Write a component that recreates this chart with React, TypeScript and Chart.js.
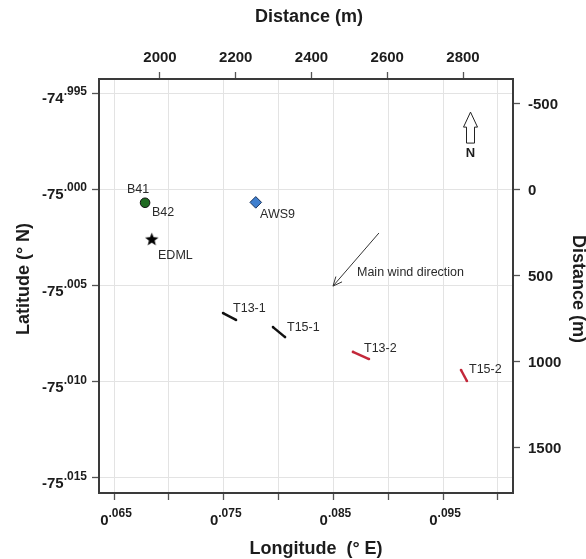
import React, { useEffect, useRef } from 'react';
import { Chart, registerables } from 'chart.js';

Chart.register(...registerables);

// ---------- data ----------
const lonRange = [0.06363, 0.10137];
const latRange = [-75.01578, -74.99427];
const distXRange = [1839, 2932];
const distYRange = [-645, 1762];

const lonTicks = [0.065, 0.07, 0.075, 0.08, 0.085, 0.09, 0.095, 0.1];
const lonLabelTicks = [0.065, 0.075, 0.085, 0.095];
const latTicks = [-74.995, -75.0, -75.005, -75.01, -75.015];
const distXTicks = [2000, 2200, 2400, 2600, 2800];
const distYTicks = [-500, 0, 500, 1000, 1500];

const siteNames = ['B41/B42', 'AWS9', 'EDML'];
const siteLon = [0.06783, 0.07792, 0.06844];
const siteLat = [-75.0007, -75.00068, -75.0026];

const transectNames = ['T13-1', 'T15-1', 'T13-2', 'T15-2'];
const transectLon = [
  [0.07494, 0.07612],
  [0.07949, 0.08059],
  [0.08678, 0.08824],
  [0.09663, 0.09717],
];
const transectLat = [
  [-75.00643, -75.00679],
  [-75.00716, -75.00768],
  [-75.00845, -75.00882],
  [-75.00939, -75.00996],
];

const windLon = [0.08915, 0.08496];
const windLat = [-75.00227, -75.00503];

const northLon = 0.09745;
const northLat = [-74.99599, -74.9976];
const northLabelLat = -74.99812;

const labelText = ['B41', 'B42', 'AWS9', 'EDML', 'T13-1', 'T15-1', 'T13-2', 'T15-2', 'Main wind direction'];
const labelLon = [0.06618, 0.06846, 0.07831, 0.06901, 0.07585, 0.08077, 0.08779, 0.09736, 0.08715];
const labelLat = [-75.0, -75.00123, -75.00129, -75.00342, -75.00622, -75.00716, -75.0083, -75.00934, -75.00435];

// ---------- styles ----------
const FONT = '"Liberation Sans", Arial, Helvetica, sans-serif';
const transectColors = ['#111111', '#111111', '#c3283a', '#c3283a'];
const TEXT = '#1c1c1c';
const FRAME = '#3a3a3a';
const GRID = '#e3e3e3';

function makeStar(): HTMLCanvasElement {
  const c = document.createElement('canvas');
  c.width = 15;
  c.height = 15;
  const g = c.getContext('2d')!;
  g.fillStyle = '#000';
  g.beginPath();
  const cx = 7.5, cy = 7.8, R = 7, r = 3.0;
  for (let i = 0; i < 10; i++) {
    const a = -Math.PI / 2 + (i * Math.PI) / 5;
    const rad = i % 2 === 0 ? R : r;
    const px = cx + rad * Math.cos(a);
    const py = cy + rad * Math.sin(a);
    if (i === 0) g.moveTo(px, py);
    else g.lineTo(px, py);
  }
  g.closePath();
  g.fill();
  return c;
}

function splitLabel(v: number): [string, string] {
  const s = v.toFixed(3);
  const i = s.indexOf('.');
  return [s.slice(0, i), s.slice(i)];
}

function drawSup(ctx: CanvasRenderingContext2D, v: number, x: number, y: number, align: 'right' | 'center') {
  const [main, sup] = splitLabel(v);
  ctx.font = `bold 15px ${FONT}`;
  const wm = ctx.measureText(main).width;
  ctx.font = `bold 12px ${FONT}`;
  const ws = ctx.measureText(sup).width;
  const total = wm + ws;
  const x0 = align === 'right' ? x - total : x - total / 2;
  ctx.textAlign = 'left';
  ctx.textBaseline = 'alphabetic';
  ctx.font = `bold 15px ${FONT}`;
  ctx.fillText(main, x0, y);
  ctx.font = `bold 12px ${FONT}`;
  ctx.fillText(sup, x0 + wm, y - 8);
}

const decorPlugin = {
  id: 'decor',
  afterDatasetsDraw(chart: any) {
    const ctx: CanvasRenderingContext2D = chart.ctx;
    const xs = chart.scales.x;
    const ys = chart.scales.y;
    ctx.save();
    // wind arrowhead
    const sx = xs.getPixelForValue(windLon[0]);
    const sy = ys.getPixelForValue(windLat[0]);
    const ex = xs.getPixelForValue(windLon[1]);
    const ey = ys.getPixelForValue(windLat[1]);
    const th = Math.atan2(ey - sy, ex - sx);
    ctx.strokeStyle = '#333';
    ctx.lineWidth = 1;
    ctx.beginPath();
    ctx.moveTo(ex - 10 * Math.cos(th - 0.42), ey - 10 * Math.sin(th - 0.42));
    ctx.lineTo(ex, ey);
    ctx.lineTo(ex - 10 * Math.cos(th + 0.42), ey - 10 * Math.sin(th + 0.42));
    ctx.stroke();

    // north arrow
    const nx = Math.round(xs.getPixelForValue(northLon)) + 0.5;
    const nt = ys.getPixelForValue(northLat[0]);
    const nb = ys.getPixelForValue(northLat[1]);
    const hb = nt + 15;
    ctx.beginPath();
    ctx.moveTo(nx, nt);
    ctx.lineTo(nx + 7, hb);
    ctx.lineTo(nx + 4, hb);
    ctx.lineTo(nx + 4, nb);
    ctx.lineTo(nx - 4, nb);
    ctx.lineTo(nx - 4, hb);
    ctx.lineTo(nx - 7, hb);
    ctx.closePath();
    ctx.fillStyle = '#fff';
    ctx.fill();
    ctx.strokeStyle = '#222';
    ctx.stroke();
    ctx.fillStyle = TEXT;
    ctx.font = `bold 13px ${FONT}`;
    ctx.textAlign = 'center';
    ctx.textBaseline = 'middle';
    ctx.fillText('N', nx, ys.getPixelForValue(northLabelLat));

    // annotations
    ctx.font = `12.5px ${FONT}`;
    ctx.fillStyle = '#2a2a2a';
    ctx.textAlign = 'left';
    ctx.textBaseline = 'middle';
    labelText.forEach((t, i) => {
      ctx.fillText(t, xs.getPixelForValue(labelLon[i]), ys.getPixelForValue(labelLat[i]));
    });
    ctx.restore();
  },
  afterDraw(chart: any) {
    const ctx: CanvasRenderingContext2D = chart.ctx;
    const a = chart.chartArea;
    const xs = chart.scales.x;
    const ys = chart.scales.y;
    const x2 = chart.scales.x2;
    const y2 = chart.scales.y2;
    ctx.save();
    ctx.fillStyle = TEXT;
    latTicks.forEach((v) => drawSup(ctx, v, a.left - 12, ys.getPixelForValue(v) + 10, 'right'));
    lonLabelTicks.forEach((v) => drawSup(ctx, v, xs.getPixelForValue(v) + 2, a.bottom + 32, 'center'));
    ctx.font = `bold 15px ${FONT}`;
    ctx.textAlign = 'center';
    ctx.textBaseline = 'alphabetic';
    distXTicks.forEach((v) => ctx.fillText(String(v), x2.getPixelForValue(v), a.top - 17));
    ctx.textAlign = 'left';
    distYTicks.forEach((v) => ctx.fillText(String(v), a.right + 15, y2.getPixelForValue(v) + 5));

    // titles
    ctx.font = `bold 18px ${FONT}`;
    ctx.textAlign = 'center';
    ctx.textBaseline = 'middle';
    ctx.fillText('Distance (m)', 309, 17);
    ctx.fillText('Longitude  (° E)', 316, 549);
    ctx.save();
    ctx.translate(24, 279);
    ctx.rotate(-Math.PI / 2);
    ctx.fillText('Latitude (° N)', 0, 0);
    ctx.restore();
    ctx.save();
    ctx.translate(578, 289);
    ctx.rotate(Math.PI / 2);
    ctx.fillText('Distance (m)', 0, 0);
    ctx.restore();
    ctx.restore();
  },
};

function zeroSize(scale: any) {
  if (scale.isHorizontal()) scale.height = 0;
  else scale.width = 0;
}

function axis(position: string, range: number[], ticks: number[], onArea: boolean, extra: any = {}) {
  return {
    type: 'linear',
    position,
    min: range[0],
    max: range[1],
    afterBuildTicks: (s: any) => {
      s.ticks = ticks.map((v) => ({ value: v }));
    },
    afterFit: zeroSize,
    ticks: { display: false },
    title: { display: false },
    grid: {
      display: true,
      drawOnChartArea: onArea,
      color: GRID,
      lineWidth: 1,
      drawTicks: true,
      tickLength: 7,
      tickColor: '#555',
      tickWidth: 1.3,
    },
    border: { display: true, color: FRAME, width: 2 },
    ...extra,
  };
}

export default function App() {
  const ref = useRef<HTMLCanvasElement>(null);
  useEffect(() => {
    if (!ref.current) return;
    const star = makeStar();
    const datasets: any[] = [];
    transectNames.forEach((n, i) => {
      datasets.push({
        label: n,
        data: transectLon[i].map((x, j) => ({ x, y: transectLat[i][j] })),
        showLine: true,
        borderColor: transectColors[i],
        backgroundColor: transectColors[i],
        borderWidth: 2.5,
        pointRadius: 1.3,
        pointBorderWidth: 0,
      });
    });
    datasets.push({
      label: 'wind',
      data: windLon.map((x, j) => ({ x, y: windLat[j] })),
      showLine: true,
      borderColor: '#333',
      borderWidth: 1,
      pointRadius: 0,
    });
    const siteStyles = [
      { pointStyle: 'circle', pointRadius: 4.8, backgroundColor: '#1f6a21', borderColor: '#111', borderWidth: 1 },
      { pointStyle: 'rectRot', pointRadius: 5.8, backgroundColor: '#3f7fcf', borderColor: '#1b355e', borderWidth: 1 },
      { pointStyle: star, pointRadius: 7 },
    ];
    siteNames.forEach((n, i) => {
      datasets.push({
        label: n,
        data: [{ x: siteLon[i], y: siteLat[i] }],
        ...siteStyles[i],
      });
    });

    const chart = new Chart(ref.current, {
      type: 'scatter',
      data: { datasets },
      options: {
        animation: false,
        responsive: false,
        events: [],
        layout: { padding: { left: 99, right: 73, top: 79, bottom: 66 } },
        plugins: { legend: { display: false }, tooltip: { enabled: false } },
        scales: {
          x: axis('bottom', lonRange, lonTicks, true),
          y: axis('left', latRange, latTicks, true),
          x2: axis('top', distXRange, distXTicks, false),
          y2: axis('right', distYRange, distYTicks, false, { reverse: true }),
        } as any,
      },
      plugins: [decorPlugin],
    } as any);
    return () => chart.destroy();
  }, []);
  return (
    <div style={{ position: 'absolute', left: 0, top: 0, width: 586, height: 559, background: '#fff' }}>
      <canvas ref={ref} width={586} height={559} />
    </div>
  );
}
